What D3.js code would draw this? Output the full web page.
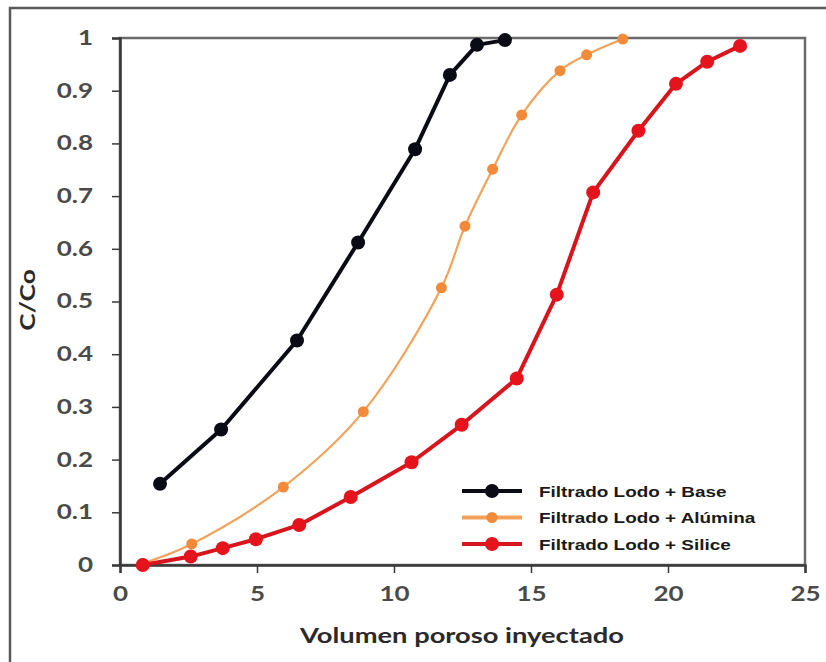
<!DOCTYPE html>
<html>
<head>
<meta charset="utf-8">
<script src="https://cdn.jsdelivr.net/npm/d3@7"></script>
<style>
  html, body { margin: 0; padding: 0; background: #fff; }
  svg { display: block; }
</style>
</head>
<body>
<svg id="chart" width="826" height="662"></svg>
<script>
// Breakthrough curves: relative concentration vs injected pore volume
const seriesNames = ["Filtrado Lodo + Base", "Filtrado Lodo + Alúmina", "Filtrado Lodo + Silice"];

const baseX = [1.46, 3.69, 6.46, 8.69, 10.77, 12.04, 13.03, 14.05];
const baseY = [0.154, 0.257, 0.426, 0.612, 0.789, 0.930, 0.987, 0.996];

const aluminaX = [0.83, 2.62, 5.96, 8.88, 11.73, 12.59, 13.60, 14.66, 16.06, 17.03, 18.35];
const aluminaY = [0.003, 0.040, 0.148, 0.291, 0.526, 0.643, 0.751, 0.854, 0.938, 0.968, 0.998];

const siliceX = [0.83, 2.58, 3.75, 4.96, 6.54, 8.42, 10.64, 12.47, 14.48, 15.94, 17.27, 18.92, 20.29, 21.43, 22.63];
const siliceY = [0.0, 0.016, 0.032, 0.049, 0.076, 0.129, 0.195, 0.266, 0.354, 0.513, 0.707, 0.824, 0.913, 0.955, 0.985];

const xTicks = [0, 5, 10, 15, 20, 25];
const yTicks = [0, 0.1, 0.2, 0.3, 0.4, 0.5, 0.6, 0.7, 0.8, 0.9, 1];

const xTitle = "Volumen poroso inyectado";
const yTitle = "C/Co";

const svg = d3.select("#chart");
const W = 826, H = 662;
const plot = { left: 120, right: 805, top: 38, bottom: 565 };

// widen glyphs of a text selection by a given factor
function widen(sel, f) {
  sel.each(function () {
    const len = this.getComputedTextLength();
    d3.select(this).attr("textLength", len * f).attr("lengthAdjust", "spacingAndGlyphs");
  });
}

// chart-area frame (left and top edges)
svg.append("path")
  .attr("d", `M10,${H} L10,8 L${W},8`)
  .attr("fill", "none").attr("stroke", "#5a5a5a").attr("stroke-width", 2.5);

const x = d3.scaleLinear().domain([0, 25]).range([plot.left, plot.right]);
const y = d3.scaleLinear().domain([0, 1]).range([plot.bottom, plot.top]);

// plot-area border
svg.append("rect")
  .attr("x", plot.left).attr("y", plot.top)
  .attr("width", plot.right - plot.left).attr("height", plot.bottom - plot.top)
  .attr("fill", "none").attr("stroke", "#6a6a6a").attr("stroke-width", 2.5);

const tickFont = "Lato, 'Open Sans', sans-serif";

const xAxis = svg.append("g")
  .attr("transform", `translate(0,${plot.bottom})`)
  .call(d3.axisBottom(x).tickValues(xTicks).tickSize(8).tickPadding(14).tickFormat(d3.format("d")));
const yAxis = svg.append("g")
  .attr("transform", `translate(${plot.left},0)`)
  .call(d3.axisLeft(y).tickValues(yTicks).tickSize(8).tickPadding(19).tickFormat(d => d === 0 || d === 1 ? d3.format("d")(d) : d3.format(".1f")(d)));

[xAxis, yAxis].forEach(g => {
  g.select(".domain").attr("stroke", "#3a3a3a").attr("stroke-width", 2.5);
  g.selectAll(".tick line").attr("stroke", "#3a3a3a").attr("stroke-width", 1.5);
  g.selectAll(".tick text")
    .attr("fill", "#4a4a4a")
    .style("font-family", tickFont)
    .style("font-size", "20px")
    .style("font-weight", "700")
    .call(widen, 1.3);
});

// axis titles
svg.append("text")
  .attr("x", 462).attr("y", 643)
  .attr("text-anchor", "middle")
  .style("font-family", tickFont).style("font-size", "21px").style("font-weight", "700")
  .attr("fill", "#2a2a2a")
  .text(xTitle)
  .call(widen, 1.3);

svg.append("text")
  .attr("transform", "translate(35,300) rotate(-90)")
  .attr("text-anchor", "middle")
  .style("font-family", tickFont).style("font-size", "21px").style("font-weight", "700")
  .attr("fill", "#2a2a2a")
  .text(yTitle)
  .call(widen, 1.25);

const series = [
  { name: seriesNames[0], xs: baseX, ys: baseY, line: "#0b0b16", dot: "#0b0b16", lw: 4, r: 7, curve: d3.curveLinear },
  { name: seriesNames[1], xs: aluminaX, ys: aluminaY, line: "#f4a25a", dot: "#f28a3a", lw: 2.2, r: 5.5, curve: d3.curveCatmullRom },
  { name: seriesNames[2], xs: siliceX, ys: siliceY, line: "#d8141c", dot: "#e5141c", lw: 4, r: 7, curve: d3.curveLinear }
];

const lineGen = d3.line().x(d => x(d[0])).y(d => y(d[1]));

series.forEach(s => {
  const pts = s.xs.map((v, i) => [v, s.ys[i]]);
  const g = svg.append("g");
  g.append("path")
    .attr("d", lineGen.curve(s.curve)(pts))
    .attr("fill", "none").attr("stroke", s.line).attr("stroke-width", s.lw)
    .attr("stroke-linejoin", "round");
  g.selectAll("circle").data(pts).join("circle")
    .attr("cx", d => x(d[0])).attr("cy", d => y(d[1]))
    .attr("r", s.r).attr("fill", s.dot);
});

// legend
const legend = svg.append("g").attr("transform", "translate(462,491)");
series.forEach((s, i) => {
  const row = legend.append("g").attr("transform", `translate(0,${i * 26.5})`);
  row.append("line").attr("x1", 0).attr("x2", 60).attr("y1", 0).attr("y2", 0)
    .attr("stroke", s.line).attr("stroke-width", 4);
  row.append("circle").attr("cx", 30).attr("cy", 0).attr("r", s.r).attr("fill", s.dot);
  row.append("text").attr("x", 77).attr("y", 0).attr("dy", "0.36em")
    .style("font-family", "'Liberation Sans', Arial, sans-serif")
    .style("font-size", "15.5px").style("font-weight", "700")
    .attr("fill", "#1a1a1a")
    .text(s.name)
    .call(widen, 1.22);
});
</script>
</body>
</html>
